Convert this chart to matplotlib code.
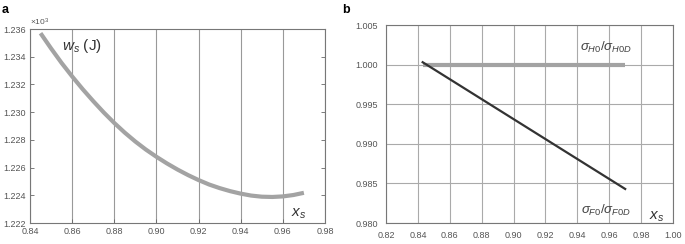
import matplotlib
matplotlib.use('Agg')
import matplotlib.pyplot as plt
import numpy as np

plt.rcParams['font.family'] = ['Liberation Sans', 'DejaVu Sans']
plt.rcParams['mathtext.fontset'] = 'custom'
plt.rcParams['mathtext.it'] = 'Liberation Sans:italic'
plt.rcParams['mathtext.rm'] = 'Liberation Sans'

# panel a: stored energy vs x_s (values in units of 1e3 J)
xs_a = [0.845, 0.850, 0.855, 0.860, 0.865, 0.870, 0.875, 0.880, 0.885, 0.890,
        0.895, 0.900, 0.905, 0.910, 0.915, 0.920, 0.925, 0.930, 0.935, 0.940,
        0.945, 0.950, 0.955, 0.960, 0.965, 0.970]
ws_a = [1.23570, 1.23460, 1.23355, 1.23258, 1.23166, 1.23080, 1.22998, 1.22922, 1.22852, 1.22788,
        1.22730, 1.22678, 1.22630, 1.22586, 1.22546, 1.22510, 1.22478, 1.22452, 1.22430, 1.22412,
        1.22398, 1.22390, 1.22388, 1.22392, 1.22402, 1.22418]

# panel b: stress ratios vs x_s
xs_b = [0.843, 0.97]
sh_b = [1.0000, 1.0000]
sf_b = [1.0003, 0.9843]

grey_txt = '#555555'
fig = plt.figure(figsize=(6.85, 2.44), dpi=100)

# ---- panel a
ax = fig.add_axes([0.0438, 0.086, 0.4306, 0.795])
ax.plot(xs_a, ws_a, color='#a3a3a3', linewidth=3, solid_capstyle='butt')
ax.set_xlim(0.84, 0.98)
ax.set_ylim(1.222, 1.236)
ax.set_xticks(np.arange(0.84, 0.981, 0.02))
ax.set_xticklabels(['%.2f' % v for v in np.arange(0.84, 0.981, 0.02)])
ax.set_yticks(np.arange(1.222, 1.2361, 0.002))
ax.set_yticklabels(['%.3f' % v for v in np.arange(1.222, 1.2361, 0.002)])
ax.xaxis.grid(True, color='#999999', linewidth=0.8)
ax.tick_params(axis='both', labelsize=6.5, colors='#666666', labelcolor=grey_txt,
               direction='in', length=3, width=0.6, pad=3, right=True)
for s in ax.spines.values():
    s.set_color('#777777')
    s.set_linewidth(0.8)
ax.text(0.0, 1.005, r'$\times10^3$', transform=ax.transAxes, fontsize=6, color=grey_txt,
        ha='left', va='bottom')
ax.text(0.855, 1.2348, r'$w_s$ (J)', fontsize=11, color='#333333', ha='left', va='center')
ax.text(0.964, 1.2227, r'$x_s$', fontsize=11, color='#333333', ha='left', va='center')
fig.text(0.003, 0.985, 'a', fontsize=9, fontweight='bold', ha='left', va='top')

# ---- panel b
bx = fig.add_axes([0.5635, 0.086, 0.419, 0.8115])
bx.plot(xs_b, sh_b, color='#a3a3a3', linewidth=3, solid_capstyle='butt')
bx.plot(xs_b, sf_b, color='#333333', linewidth=1.6)
bx.set_xlim(0.82, 1.00)
bx.set_ylim(0.980, 1.005)
bx.set_xticks(np.arange(0.82, 1.001, 0.02))
bx.set_xticklabels(['%.2f' % v for v in np.arange(0.82, 1.001, 0.02)])
bx.set_yticks(np.arange(0.980, 1.0051, 0.005))
bx.set_yticklabels(['%.3f' % v for v in np.arange(0.980, 1.0051, 0.005)])
bx.grid(True, color='#aaaaaa', linewidth=0.8)
bx.tick_params(axis='both', labelsize=6.5, colors='#666666', labelcolor=grey_txt,
               direction='in', length=0, pad=6)
for s in bx.spines.values():
    s.set_color('#777777')
    s.set_linewidth(0.8)
bx.text(0.958, 1.0022, r'$\sigma_{H0}/\sigma_{H0D}$', fontsize=9.5, color='#444444',
        ha='center', va='center')
bx.text(0.958, 0.9816, r'$\sigma_{F0}/\sigma_{F0D}$', fontsize=9.5, color='#444444',
        ha='center', va='center')
bx.text(0.985, 0.9808, r'$x_s$', fontsize=11, color='#333333', ha='left', va='center')
fig.text(0.5, 0.985, 'b', fontsize=9, fontweight='bold', ha='left', va='top')

fig.savefig('out.png', dpi=100)
